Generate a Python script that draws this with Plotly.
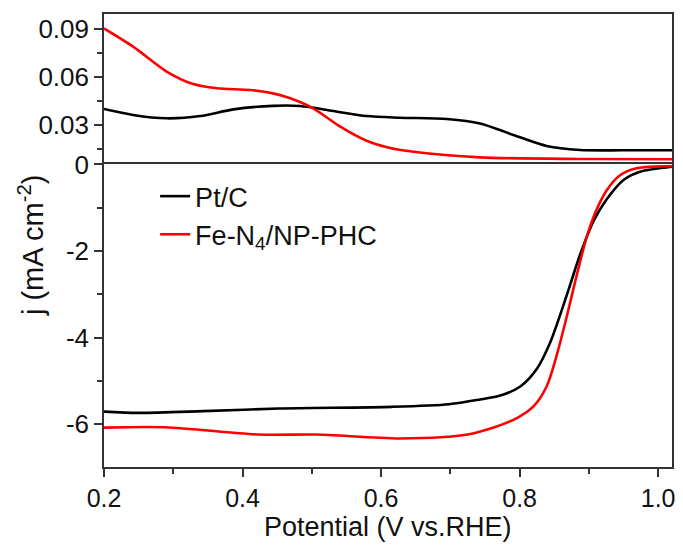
import plotly.graph_objects as go
from plotly.subplots import make_subplots

# ---- data ----
pt_ring_x = [0.2, 0.242, 0.29, 0.339, 0.387, 0.444, 0.483, 0.531, 0.579, 0.627, 0.695, 0.743, 0.791, 0.839, 0.887, 0.95, 1.02]
pt_ring_y = [0.040, 0.0363, 0.0342, 0.0356, 0.0398, 0.042, 0.0419, 0.0388, 0.0356, 0.0346, 0.0338, 0.031, 0.0238, 0.0169, 0.0144, 0.0142, 0.0142]

fe_ring_x = [0.2, 0.242, 0.291, 0.329, 0.363, 0.411, 0.444, 0.469, 0.502, 0.541, 0.579, 0.61, 0.647, 0.743, 0.887, 1.02]
fe_ring_y = [0.0904, 0.079, 0.0633, 0.0556, 0.053, 0.0519, 0.0498, 0.0467, 0.0404, 0.029, 0.0202, 0.0160, 0.0133, 0.0098, 0.0088, 0.0086]

pt_disk_x = [0.2, 0.25, 0.343, 0.452, 0.616, 0.698, 0.743, 0.772, 0.801, 0.825, 0.844, 0.858, 0.873, 0.887, 0.907, 0.926, 0.95, 0.974, 1.02]
pt_disk_y = [-5.71, -5.74, -5.70, -5.64, -5.60, -5.54, -5.43, -5.34, -5.13, -4.72, -4.12, -3.50, -2.78, -2.10, -1.30, -0.80, -0.36, -0.17, -0.055]

fe_disk_x = [0.2, 0.288, 0.425, 0.507, 0.627, 0.725, 0.791, 0.82, 0.839, 0.853, 0.868, 0.882, 0.897, 0.911, 0.926, 0.945, 0.969, 1.02]
fe_disk_y = [-6.08, -6.07, -6.24, -6.24, -6.33, -6.24, -5.90, -5.59, -5.13, -4.44, -3.52, -2.59, -1.67, -1.05, -0.59, -0.25, -0.09, -0.04]

series_names = ["Pt/C", "Fe-N<sub>4</sub>/NP-PHC"]
series_colors = ["#000000", "#ff0000"]

top_tickvals = [0.03, 0.06, 0.09]
top_ticktext = ["0.03", "0.06", "0.09"]
bot_tickvals = [0, -2, -4, -6]
bot_ticktext = ["0", "-2", "-4", "-6"]
x_tickvals = [0.2, 0.4, 0.6, 0.8, 1.0]
x_ticktext = ["0.2", "0.4", "0.6", "0.8", "1.0"]
x_title = "Potential (V vs.RHE)"
y_title = "j (mA cm<sup>-2</sup>)"

FONT = "Liberation Sans, Arial, sans-serif"
AX = "#333333"
TXT = "#111111"

fig = make_subplots(rows=2, cols=1, shared_xaxes=True, vertical_spacing=0,
                    row_heights=[0.332, 0.668])

def line_style(c):
    return dict(color=c, width=2.6, shape="spline", smoothing=0.8)

fig.add_trace(go.Scatter(x=pt_ring_x, y=pt_ring_y, mode="lines", line=line_style(series_colors[0]),
                         showlegend=False), row=1, col=1)
fig.add_trace(go.Scatter(x=fe_ring_x, y=fe_ring_y, mode="lines", line=line_style(series_colors[1]),
                         showlegend=False), row=1, col=1)
fig.add_trace(go.Scatter(x=pt_disk_x, y=pt_disk_y, mode="lines", name=series_names[0],
                         line=line_style(series_colors[0])), row=2, col=1)
fig.add_trace(go.Scatter(x=fe_disk_x, y=fe_disk_y, mode="lines", name=series_names[1],
                         line=line_style(series_colors[1])), row=2, col=1)

common_line = dict(showline=True, linecolor=AX, linewidth=1.6, showgrid=False, zeroline=False, automargin=False)

# top panel x axis: only its top border line
fig.update_xaxes(range=[0.2, 1.02], row=1, col=1, ticks="", showticklabels=False, side="top",
                 mirror=False, **common_line)
fig.update_xaxes(range=[0.2, 1.02], row=2, col=1, ticks="outside", ticklen=8, tickwidth=1.6, tickcolor=AX,
                 tickvals=x_tickvals, ticktext=x_ticktext, mirror=True,
                 minor=dict(ticks="outside", ticklen=5, tickwidth=1.6, tickcolor=AX, dtick=0.1, tick0=0.2),
                 tickfont=dict(size=25, family=FONT, color=TXT), **common_line)

fig.update_yaxes(range=[0.0054, 0.0994], row=1, col=1, ticks="outside", ticklen=8, tickwidth=1.6, tickcolor=AX,
                 tickvals=top_tickvals, ticktext=top_ticktext, mirror=True,
                 minor=dict(ticks="outside", ticklen=5, tickwidth=1.6, tickcolor=AX, dtick=0.015, tick0=0),
                 tickfont=dict(size=26, family=FONT, color=TXT), **common_line)
fig.update_yaxes(range=[-6.99, 0], row=2, col=1, ticks="outside", ticklen=8, tickwidth=1.6, tickcolor=AX,
                 tickvals=bot_tickvals, ticktext=bot_ticktext, mirror=True,
                 minor=dict(ticks="outside", ticklen=5, tickwidth=1.6, tickcolor=AX, dtick=1, tick0=0),
                 tickfont=dict(size=26, family=FONT, color=TXT), **common_line)

fig.add_annotation(text=y_title, textangle=-90, xref="paper", yref="paper",
                   x=-0.1285, y=0.49, xanchor="center", yanchor="middle", showarrow=False,
                   font=dict(size=29, family=FONT, color=TXT))
fig.add_annotation(text=x_title, xref="paper", yref="paper",
                   x=0.5, y=-0.133, xanchor="center", yanchor="middle", showarrow=False,
                   font=dict(size=27, family=FONT, color=TXT))

fig.update_layout(
    width=683, height=547,
    margin=dict(l=104, r=11, t=14, b=80, autoexpand=False),
    paper_bgcolor="white", plot_bgcolor="white",
    font=dict(family=FONT, color=TXT),
    legend=dict(x=0.09, y=0.651, xanchor="left", yanchor="top", yref="paper",
                bgcolor="rgba(0,0,0,0)", font=dict(size=27, family=FONT, color=TXT),
                tracegroupgap=0, itemwidth=30),
    showlegend=True,
)

fig.write_html("out.html", config={"displayModeBar": False},
               post_script="document.body.style.margin='0px';document.body.style.padding='0px';")
